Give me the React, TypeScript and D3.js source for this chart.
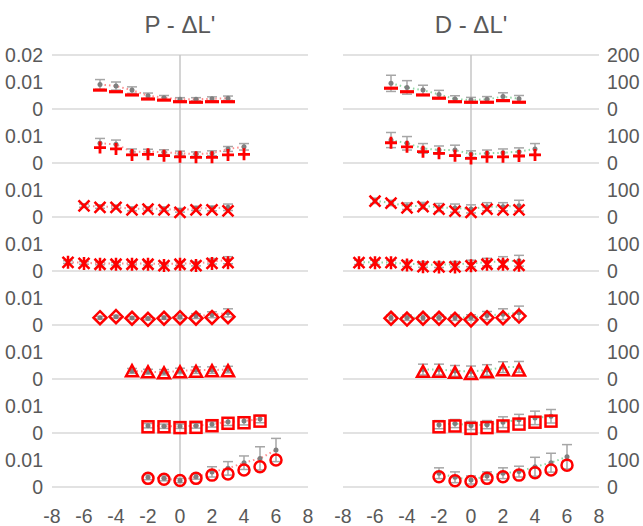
import React from 'react';
import * as d3 from 'd3';

// x positions for each row (shared by both panels)
const rowX = [
  [-5, -4, -3, -2, -1, 0, 1, 2, 3],
  [-5, -4, -3, -2, -1, 0, 1, 2, 3, 4],
  [-6, -5, -4, -3, -2, -1, 0, 1, 2, 3],
  [-7, -6, -5, -4, -3, -2, -1, 0, 1, 2, 3],
  [-5, -4, -3, -2, -1, 0, 1, 2, 3],
  [-3, -2, -1, 0, 1, 2, 3],
  [-2, -1, 0, 1, 2, 3, 4, 5],
  [-2, -1, 0, 1, 2, 3, 4, 5, 6],
];
const markerTypes = ['dash', 'plus', 'x', 'star', 'diamond', 'triangle', 'square', 'circle'];

// P - ΔL' (left panel)
const pModel = [
  [0.007, 0.0064, 0.0052, 0.0037, 0.0033, 0.0027, 0.0025, 0.0027, 0.0027],
  [0.0057, 0.0052, 0.003, 0.0032, 0.0027, 0.0023, 0.0021, 0.0021, 0.003, 0.0032],
  [0.0041, 0.0036, 0.0036, 0.0026, 0.0029, 0.0026, 0.0017, 0.0026, 0.0026, 0.0023],
  [0.0032, 0.0028, 0.0025, 0.0025, 0.0025, 0.0025, 0.002, 0.0025, 0.002, 0.0028, 0.0031],
  [0.0027, 0.0031, 0.0025, 0.0021, 0.0025, 0.0027, 0.0025, 0.0028, 0.0031],
  [0.0027, 0.0023, 0.0019, 0.0023, 0.0025, 0.0027, 0.0027],
  [0.0023, 0.0023, 0.002, 0.0021, 0.0027, 0.0036, 0.0038, 0.0044],
  [0.0032, 0.0029, 0.0024, 0.0032, 0.0044, 0.0048, 0.0063, 0.0075, 0.01],
];
const pMean = [
  [0.0091, 0.0085, 0.007, 0.0049, 0.0042, 0.0036, 0.0036, 0.0038, 0.004],
  [0.0073, 0.0069, 0.0042, 0.0042, 0.004, 0.0036, 0.0033, 0.0036, 0.0052, 0.006],
  [0.0042, 0.0038, 0.0037, 0.003, 0.0031, 0.003, 0.0025, 0.0032, 0.0032, 0.0036],
  [0.0033, 0.003, 0.0028, 0.0027, 0.0028, 0.0028, 0.0025, 0.0028, 0.0027, 0.0036, 0.004],
  [0.0027, 0.0031, 0.0026, 0.0024, 0.0027, 0.003, 0.0033, 0.0038, 0.0045],
  [0.003, 0.0027, 0.0025, 0.003, 0.0033, 0.0033, 0.0035],
  [0.0027, 0.0025, 0.0025, 0.0027, 0.0032, 0.0042, 0.0044, 0.0052],
  [0.0036, 0.0032, 0.0024, 0.0038, 0.0056, 0.0069, 0.009, 0.0106, 0.0137],
];
const pErr = [
  [0.0018, 0.0015, 0.0012, 0.001, 0.0008, 0.0006, 0.0006, 0.0007, 0.0008],
  [0.0018, 0.0016, 0.001, 0.0009, 0.0009, 0.0008, 0.0008, 0.0009, 0.0009, 0.0012],
  [0.0006, 0.0006, 0.0006, 0.0007, 0.0007, 0.0007, 0.0007, 0.0008, 0.0009, 0.0012],
  [0.0005, 0.0005, 0.0005, 0.0005, 0.0005, 0.0006, 0.0006, 0.0007, 0.0008, 0.001, 0.0013],
  [0.0005, 0.0005, 0.0005, 0.0005, 0.0006, 0.0007, 0.0009, 0.0011, 0.0015],
  [0.0009, 0.0009, 0.001, 0.001, 0.0012, 0.0012, 0.0012],
  [0.0008, 0.0008, 0.0008, 0.0009, 0.001, 0.0014, 0.0014, 0.0014],
  [0.0009, 0.0009, 0.0008, 0.0009, 0.0019, 0.0025, 0.0025, 0.0043, 0.0043],
];

// D - ΔL' (right panel)
const dModel = [
  [77, 64, 52, 40, 27, 25, 25, 31, 25],
  [75, 60, 42, 36, 27, 17, 23, 23, 26, 30],
  [59, 51, 34, 38, 29, 22, 17, 29, 26, 26],
  [31, 31, 31, 22, 16, 15, 15, 19, 25, 25, 21],
  [25, 22, 25, 25, 21, 19, 27, 27, 33],
  [25, 25, 21, 17, 23, 31, 30],
  [23, 26, 17, 20, 26, 33, 40, 44],
  [38, 23, 20, 32, 38, 44, 53, 63, 81],
];
const dMean = [
  [95, 80, 70, 54, 37, 33, 36, 46, 38],
  [85, 73, 54, 48, 48, 33, 36, 38, 42, 52],
  [60, 52, 40, 42, 35, 33, 30, 38, 38, 42],
  [32, 32, 31, 27, 24, 23, 25, 28, 33, 35, 38],
  [27, 27, 27, 28, 27, 28, 35, 40, 45],
  [35, 35, 30, 28, 33, 44, 45],
  [31, 35, 28, 31, 40, 49, 56, 62],
  [51, 36, 26, 41, 51, 57, 75, 90, 112],
];
const dErr = [
  [30, 25, 18, 15, 12, 10, 10, 14, 12],
  [28, 25, 18, 15, 18, 12, 12, 14, 14, 20],
  [10, 10, 12, 12, 15, 15, 15, 15, 15, 20],
  [8, 8, 8, 10, 10, 10, 10, 12, 14, 18, 20],
  [10, 10, 10, 10, 10, 10, 15, 20, 25],
  [20, 20, 20, 20, 20, 20, 20],
  [15, 15, 15, 15, 20, 20, 25, 25],
  [20, 20, 15, 15, 20, 20, 35, 35, 45],
];

const xTicks = [-8, -6, -4, -2, 0, 2, 4, 6, 8];
const pRowTicks = [0, 0.01];
const dRowTicks = [0, 100];
const pTopTick = 0.02;
const dTopTick = 200;

const W = 643;
const H = 526;
const top = 55;
const rowH = 54;
const nRows = 8;
const textColor = '#595959';
const font = '"Liberation Sans", Arial, sans-serif';
const tickSize = 19.5;

const Marker = ({ type, x, y }: { type: string; x: number; y: number }) => {
  const s = 5.5;
  const st = { fill: 'none', stroke: '#ff0000', strokeWidth: 2.5 };
  switch (type) {
    case 'dash':
      return <rect x={x - 7} y={y - 1.6} width={14} height={3.2} fill="#ff0000" />;
    case 'plus':
      return <path d={`M${x - 6},${y}H${x + 6}M${x},${y - 6}V${y + 6}`} {...st} strokeWidth={2.8} />;
    case 'x':
      return <path d={`M${x - s},${y - s}L${x + s},${y + s}M${x - s},${y + s}L${x + s},${y - s}`} {...st} />;
    case 'star':
      return (
        <path
          d={`M${x - s},${y - s}L${x + s},${y + s}M${x - s},${y + s}L${x + s},${y - s}M${x},${y - 6.5}V${y + 6.5}`}
          {...st}
        />
      );
    case 'diamond':
      return <path d={`M${x},${y - 6.5}L${x + 6.5},${y}L${x},${y + 6.5}L${x - 6.5},${y}Z`} {...st} />;
    case 'triangle':
      return <path d={`M${x},${y - 6.5}L${x + 6},${y + 4.5}L${x - 6},${y + 4.5}Z`} {...st} />;
    case 'square':
      return <rect x={x - 5.5} y={y - 5.5} width={11} height={11} {...st} />;
    default:
      return <circle cx={x} cy={y} r={5.5} {...st} />;
  }
};

const Panel = ({
  x0,
  x1,
  maxV,
  model,
  mean,
  err,
  lineColor,
}: {
  x0: number;
  x1: number;
  maxV: number;
  model: number[][];
  mean: number[][];
  err: number[][];
  lineColor: string;
}) => {
  const x = d3.scaleLinear().domain([-8, 8]).range([x0, x1]);
  return (
    <g>
      {d3.range(nRows + 1).map((i) => (
        <line key={i} x1={x0} x2={x1} y1={top + i * rowH} y2={top + i * rowH} stroke="#d9d9d9" strokeWidth={1.5} />
      ))}
      <line x1={x(0)} x2={x(0)} y1={top} y2={top + nRows * rowH} stroke="#c6c6c6" strokeWidth={1.5} />
      {model.map((vals, r) => {
        const base = top + (r + 1) * rowH;
        const y = d3.scaleLinear().domain([0, maxV]).range([base, base - rowH]);
        const xs = rowX[r];
        const line = d3
          .line<number>()
          .x((_, i) => x(xs[i]))
          .y((d) => y(d));
        return (
          <g key={r}>
            {mean[r].map((m, i) => {
              const px = x(xs[i]);
              const yt = y(m + err[r][i]);
              const yb = y(m - err[r][i]);
              return (
                <g key={i} stroke="#a6a6a6" strokeWidth={1.5}>
                  <line x1={px} x2={px} y1={yt} y2={yb} />
                  <line x1={px - 5} x2={px + 5} y1={yt} y2={yt} />
                  <line x1={px - 5} x2={px + 5} y1={yb} y2={yb} />
                </g>
              );
            })}
            <path d={line(mean[r]) || ''} fill="none" stroke={lineColor} strokeWidth={2} strokeDasharray="1.5,3" />
            {mean[r].map((m, i) => (
              <circle key={i} cx={x(xs[i])} cy={y(m)} r={2.5} fill="#7f7f7f" />
            ))}
            {vals.map((v, i) => (
              <Marker key={i} type={markerTypes[r]} x={x(xs[i])} y={y(v)} />
            ))}
          </g>
        );
      })}
      {xTicks.map((t) => (
        <text key={t} x={x(t)} y={523} textAnchor="middle" fontSize={tickSize} fill={textColor}>
          {t}
        </text>
      ))}
    </g>
  );
};

export default function App() {
  const fmtP = (v: number) => (v === 0 ? '0' : v.toFixed(2));
  return (
    <svg
      width={W}
      height={H}
      style={{ display: 'block', position: 'absolute', left: 0, top: 0, fontFamily: font }}
    >
      <text x={180} y={33} textAnchor="middle" fontSize={24} fill={textColor}>
        P - ΔL'
      </text>
      <text x={471} y={33} textAnchor="middle" fontSize={24} fill={textColor}>
        D - ΔL'
      </text>
      <Panel x0={52} x1={308} maxV={pTopTick} model={pModel} mean={pMean} err={pErr} lineColor="#ff8c8c" />
      <Panel x0={343} x1={599} maxV={dTopTick} model={dModel} mean={dMean} err={dErr} lineColor="#8fd6a4" />
      <text x={43} y={top + 7} textAnchor="end" fontSize={tickSize} fill={textColor}>
        {fmtP(pTopTick)}
      </text>
      <text x={607} y={top + 7} textAnchor="start" fontSize={tickSize} fill={textColor}>
        {dTopTick}
      </text>
      {d3.range(nRows).map((r) => {
        const base = top + (r + 1) * rowH;
        const yl = d3.scaleLinear().domain([0, pTopTick]).range([base, base - rowH]);
        const yr = d3.scaleLinear().domain([0, dTopTick]).range([base, base - rowH]);
        return (
          <g key={r}>
            {pRowTicks.map((t) => (
              <text key={'p' + t} x={43} y={yl(t) + 7} textAnchor="end" fontSize={tickSize} fill={textColor}>
                {fmtP(t)}
              </text>
            ))}
            {dRowTicks.map((t) => (
              <text key={'d' + t} x={607} y={yr(t) + 7} textAnchor="start" fontSize={tickSize} fill={textColor}>
                {t}
              </text>
            ))}
          </g>
        );
      })}
    </svg>
  );
}
